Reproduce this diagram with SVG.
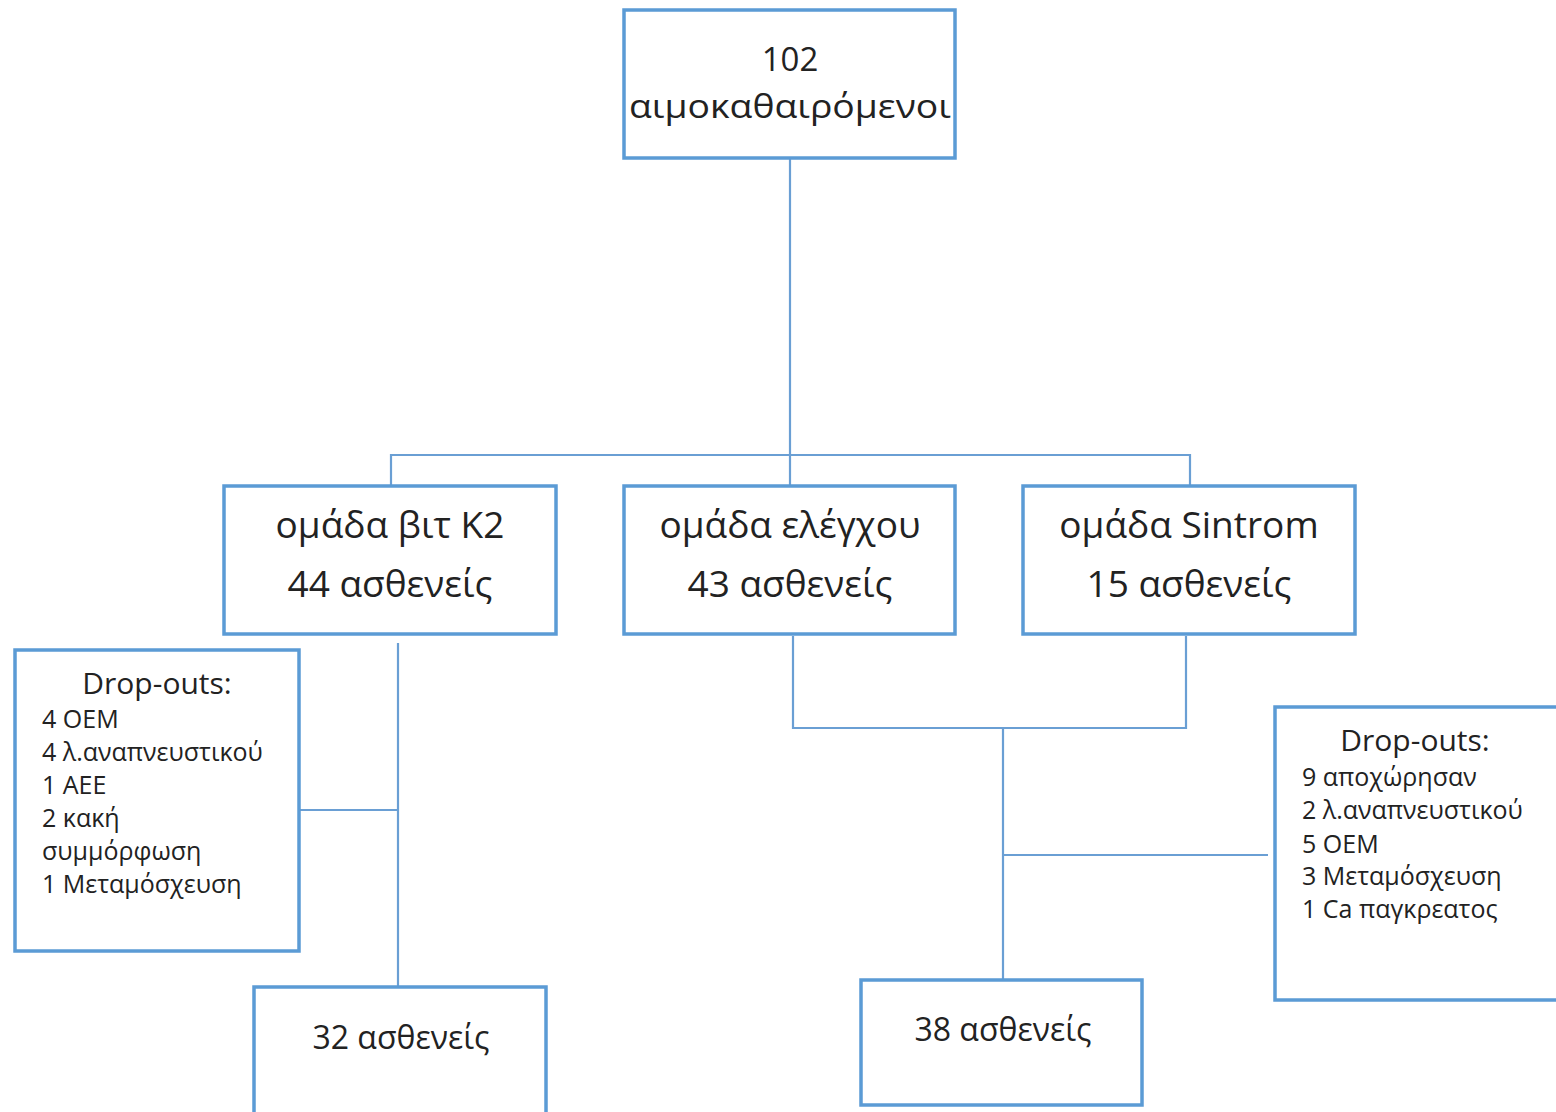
<svg xmlns="http://www.w3.org/2000/svg" width="1556" height="1112" viewBox="0 0 1556 1112">
<style>
.box{fill:#fff;stroke:#5B9BD5;stroke-width:3.5}
.con{fill:none;stroke:#6A9FD4;stroke-width:2.2}
text{font-family:"Open Sans","Noto Sans","DejaVu Sans",sans-serif;fill:#222}
.big{font-size:37px;text-anchor:middle}
.top{font-size:33px;text-anchor:middle}
.mid{font-size:30px}
.res{font-size:32px}
.sm{font-size:25px}
.c{text-anchor:middle}
</style>
<rect width="1556" height="1112" fill="#fff"/>
<g id="connectors">
<path class="con" d="M790,158 V486 M391,486 V455 H1190 V486"/>
<path class="con" d="M398,643 V987 M300,810 H398"/>
<path class="con" d="M793,636 V728 H1186 V636 M1003,728 V980 M1003,855 H1268"/>
</g>
<g id="n-total">
<rect class="box" x="624" y="10" width="331" height="148"/>
<text class="top" x="790" y="71" font-size="35">102</text>
<text class="top" x="790" y="118" textLength="322" lengthAdjust="spacingAndGlyphs">αιμοκαθαιρόμενοι</text>
</g>
<g id="n-k2">
<rect class="box" x="224" y="486" width="332" height="148"/>
<text class="big" x="390" y="538">ομάδα βιτ K2</text>
<text class="big" x="390" y="597">44 ασθενείς</text>
</g>
<g id="n-control">
<rect class="box" x="624" y="486" width="331" height="148"/>
<text class="big" x="790" y="538">ομάδα ελέγχου</text>
<text class="big" x="790" y="597">43 ασθενείς</text>
</g>
<g id="n-sintrom">
<rect class="box" x="1023" y="486" width="332" height="148"/>
<text class="big" x="1189" y="538">ομάδα Sintrom</text>
<text class="big" x="1189" y="597">15 ασθενείς</text>
</g>
<g id="n-drop1">
<rect class="box" x="15" y="650" width="284" height="301"/>
<text class="mid c" x="157" y="694">Drop-outs:</text>
<text class="sm" x="42" y="728">4 OEM</text>
<text class="sm" x="42" y="761">4 λ.αναπνευστικού</text>
<text class="sm" x="42" y="794">1 AEE</text>
<text class="sm" x="42" y="827">2 κακή</text>
<text class="sm" x="42" y="860">συμμόρφωση</text>
<text class="sm" x="42" y="893">1 Μεταμόσχευση</text>
</g>
<g id="n-drop2">
<rect class="box" x="1275" y="707" width="290" height="293"/>
<text class="mid c" x="1415" y="751">Drop-outs:</text>
<text class="sm" x="1302" y="786">9 αποχώρησαν</text>
<text class="sm" x="1302" y="819">2 λ.αναπνευστικού</text>
<text class="sm" x="1302" y="853">5 OEM</text>
<text class="sm" x="1302" y="885">3 Μεταμόσχευση</text>
<text class="sm" x="1302" y="918">1 Ca παγκρεατος</text>
</g>
<g id="n-32">
<rect class="box" x="254" y="987" width="292" height="140"/>
<text class="res c" x="401" y="1049">32 ασθενείς</text>
</g>
<g id="n-38">
<rect class="box" x="861" y="980" width="281" height="125"/>
<text class="res c" x="1003" y="1041">38 ασθενείς</text>
</g>
</svg>
